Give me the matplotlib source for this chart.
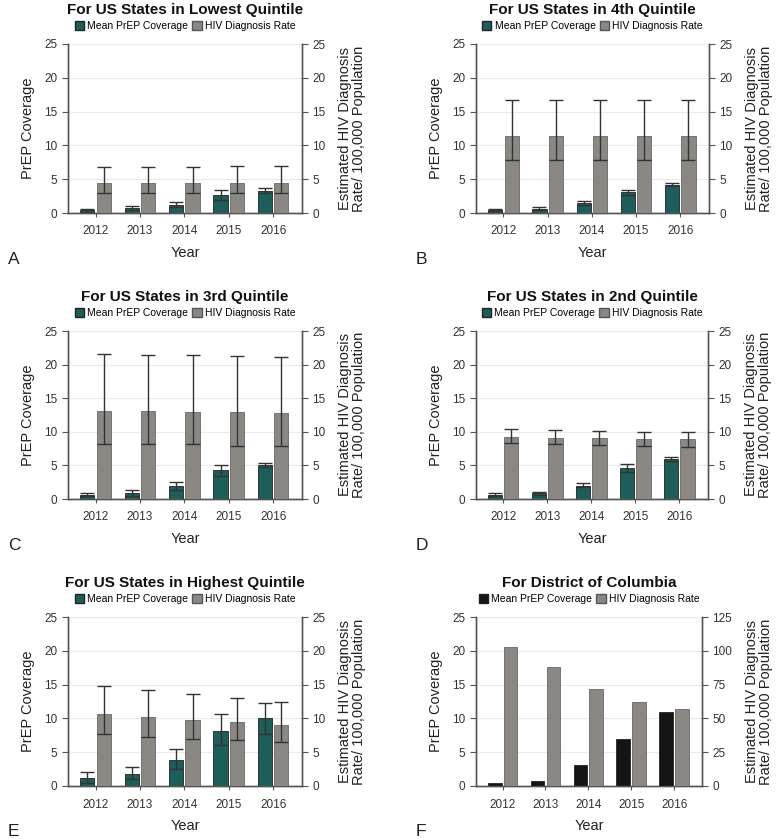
import numpy as np
import matplotlib
matplotlib.use("Agg")
import matplotlib.pyplot as plt
from matplotlib.patches import Patch

plt.rcParams['font.family'] = ['Liberation Sans', 'DejaVu Sans']

years = ["2012", "2013", "2014", "2015", "2016"]

# PrEP coverage (left axis): mean, lower and upper error bounds
prep_a = [0.4, 0.7, 1.24, 2.6, 3.26]
prep_a_lo = [0.15, 0.4, 0.9, 1.9, 2.9]
prep_a_hi = [0.64, 1.0, 1.6, 3.35, 3.75]
prep_b = [0.5, 0.65, 1.5, 3.06, 4.2]
prep_b_lo = [0.3, 0.4, 1.2, 2.7, 3.95]
prep_b_hi = [0.64, 0.94, 1.83, 3.46, 4.5]
prep_c = [0.64, 0.9, 1.9, 4.25, 5.0]
prep_c_lo = [0.4, 0.5, 1.3, 3.36, 4.7]
prep_c_hi = [0.9, 1.3, 2.6, 5.05, 5.3]
prep_d = [0.64, 0.84, 2.0, 4.55, 5.9]
prep_d_lo = [0.4, 0.64, 1.73, 4.0, 5.7]
prep_d_hi = [0.9, 1.04, 2.37, 5.2, 6.2]
prep_e = [1.23, 1.8, 3.9, 8.2, 10.0]
prep_e_lo = [0.5, 1.1, 2.5, 6.0, 7.7]
prep_e_hi = [2.0, 2.75, 5.5, 10.6, 12.35]
prep_f = [0.5, 0.74, 3.06, 7.0, 10.9]

# HIV diagnosis rate (right axis)
hiv_a = [4.45, 4.45, 4.45, 4.5, 4.5]
hiv_a_lo = [2.96, 2.96, 2.96, 3.0, 3.0]
hiv_a_hi = [6.87, 6.87, 6.87, 6.95, 6.95]
hiv_b = [11.36, 11.36, 11.36, 11.36, 11.36]
hiv_b_lo = [7.9, 7.9, 7.9, 7.9, 7.9]
hiv_b_hi = [16.65, 16.65, 16.65, 16.7, 16.7]
hiv_c = [13.14, 13.1, 13.0, 12.9, 12.8]
hiv_c_lo = [8.2, 8.15, 8.15, 7.95, 7.9]
hiv_c_hi = [21.6, 21.5, 21.4, 21.25, 21.2]
hiv_d = [9.3, 9.15, 9.1, 9.0, 8.9]
hiv_d_lo = [8.4, 8.2, 8.1, 7.95, 7.8]
hiv_d_hi = [10.4, 10.3, 10.1, 10.0, 9.9]
hiv_e = [10.6, 10.2, 9.8, 9.4, 9.0]
hiv_e_lo = [7.7, 7.3, 7.0, 6.8, 6.5]
hiv_e_hi = [14.8, 14.2, 13.6, 13.0, 12.5]
hiv_f = [103, 88, 72, 62, 57]

titles = ["For US States in Lowest Quintile", "For US States in 4th Quintile",
          "For US States in 3rd Quintile", "For US States in 2nd Quintile",
          "For US States in Highest Quintile", "For District of Columbia"]
letters = ["A", "B", "C", "D", "E", "F"]

teal = "#1e5e5a"
grey = "#8b8883"
black = "#141414"
spine_c = "#555555"

W, H = 777, 839
fig = plt.figure(figsize=(W / 100, H / 100), dpi=100)

# axes boxes in pixels: left, right, top, bottom
boxes = [(68, 302, 44, 213), (476, 709, 44, 213),
         (68, 302, 331, 499), (476, 708, 331, 499),
         (68, 302, 617, 786), (476, 702, 617, 786)]

panels = [
    (prep_a, prep_a_lo, prep_a_hi, hiv_a, hiv_a_lo, hiv_a_hi),
    (prep_b, prep_b_lo, prep_b_hi, hiv_b, hiv_b_lo, hiv_b_hi),
    (prep_c, prep_c_lo, prep_c_hi, hiv_c, hiv_c_lo, hiv_c_hi),
    (prep_d, prep_d_lo, prep_d_hi, hiv_d, hiv_d_lo, hiv_d_hi),
    (prep_e, prep_e_lo, prep_e_hi, hiv_e, hiv_e_lo, hiv_e_hi),
    (prep_f, None, None, hiv_f, None, None),
]

x = np.arange(len(years))
bw = 0.32
off = 0.185

for i, (box, data) in enumerate(zip(boxes, panels)):
    l, r, t, b = box
    ax = fig.add_axes([l / W, 1 - b / H, (r - l) / W, (b - t) / H])
    ax2 = ax.twinx()
    prep, plo, phi, hiv, hlo, hhi = data
    first_c = black if i == 5 else teal

    ax.bar(x - off, prep, bw, color=first_c, edgecolor="#222222", linewidth=0.6, zorder=3)
    ax2.bar(x + off, hiv, bw, color=grey, edgecolor="#6a6763", linewidth=0.6, zorder=3)
    if plo is not None:
        pe = [np.array(prep) - np.array(plo), np.array(phi) - np.array(prep)]
        ax.errorbar(x - off, prep, yerr=pe, fmt="none", ecolor="#333333",
                    elinewidth=1.0, capsize=4.8, capthick=1.0, zorder=4)
        he = [np.array(hiv) - np.array(hlo), np.array(hhi) - np.array(hiv)]
        ax2.errorbar(x + off, hiv, yerr=he, fmt="none", ecolor="#333333",
                     elinewidth=1.0, capsize=4.8, capthick=1.0, zorder=4)

    ax.set_xlim(-0.62, 4.65)
    ax.set_ylim(0, 25)
    ax.set_yticks([0, 5, 10, 15, 20, 25])
    ax.yaxis.grid(True, color="#ebebeb", linewidth=0.8, zorder=0)
    ax.set_axisbelow(True)
    if i == 5:
        ax2.set_ylim(0, 125)
        ax2.set_yticks([0, 25, 50, 75, 100, 125])
    else:
        ax2.set_ylim(0, 25)
        ax2.set_yticks([0, 5, 10, 15, 20, 25])
    ax.set_xticks(x)
    ax.set_xticklabels(years)

    for a in (ax, ax2):
        a.spines["top"].set_visible(False)
        for s in ("left", "right", "bottom"):
            a.spines[s].set_color(spine_c)
            a.spines[s].set_linewidth(1.0)
        a.tick_params(labelsize=8.5, colors="#333333", length=4, width=0.8)
    ax.tick_params(axis="y", color=spine_c)
    ax2.tick_params(axis="y", color=spine_c)
    ax.tick_params(axis="x", color=spine_c, length=3, pad=6)

    ax.set_xlabel("Year", fontsize=10.5, color="#222222", labelpad=6)
    ax.set_ylabel("PrEP Coverage", fontsize=10.5, color="#222222", labelpad=7)
    ax2.set_ylabel("Estimated HIV Diagnosis\nRate/ 100,000 Population",
                   fontsize=10.5, color="#222222", labelpad=9, linespacing=1.0)

    ax.text(0.5, 1.0 + 34 / (b - t), titles[i], transform=ax.transAxes,
            ha="center", va="center", fontsize=11, fontweight="bold", color="#111111")
    handles = [Patch(facecolor=first_c, edgecolor="#222222"),
               Patch(facecolor=grey, edgecolor="#555555")]
    ax.legend(handles, ["Mean PrEP Coverage", "HIV Diagnosis Rate"],
              loc="center", bbox_to_anchor=(0.5, 1.0 + 18 / (b - t)), ncol=2,
              frameon=False, fontsize=7.5, handlelength=0.9, handleheight=0.9,
              handletextpad=0.3, columnspacing=0.4, borderaxespad=0, borderpad=0)

    fig.text((l - 60) / W, 1 - (b + 46) / H, letters[i], fontsize=12.5,
             color="#222222", ha="left", va="center")

fig.savefig("out.png", dpi=100, facecolor="white")
